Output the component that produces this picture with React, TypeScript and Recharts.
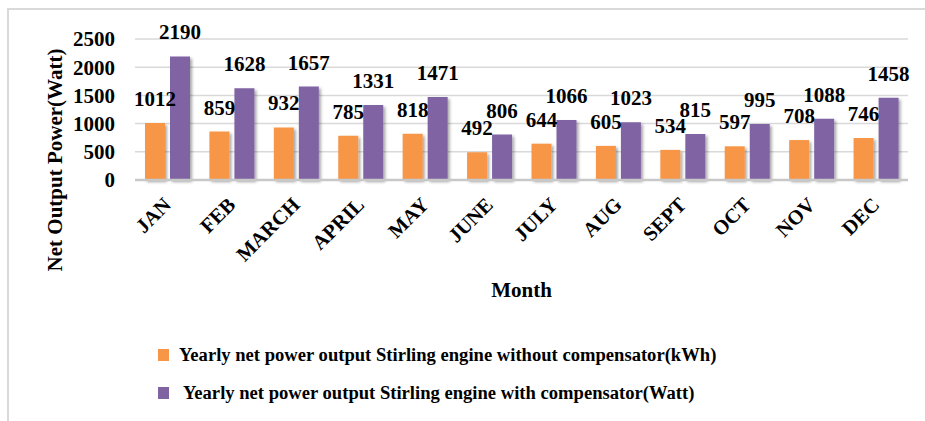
import React from "react";
import { BarChart, Bar, XAxis, YAxis, CartesianGrid, LabelList } from "recharts";

const months = ["JAN", "FEB", "MARCH", "APRIL", "MAY", "JUNE", "JULY", "AUG", "SEPT", "OCT", "NOV", "DEC"];
const withoutCompensator = [1012, 859, 932, 785, 818, 492, 644, 605, 534, 597, 708, 746];
const withCompensator = [2190, 1628, 1657, 1331, 1471, 806, 1066, 1023, 815, 995, 1088, 1458];
const yTicks = [0, 500, 1000, 1500, 2000, 2500];
const seriesNames = [
  "Yearly net power output Stirling engine without compensator(kWh)",
  " Yearly net power output Stirling engine with compensator(Watt)",
];
const seriesColors = ["#F79646", "#8064A2"];

const data = months.map((m, i) => ({ month: m, without: withoutCompensator[i], with: withCompensator[i] }));

const FONT = "'Liberation Serif', 'Times New Roman', serif";

const XTick = (props: any) => {
  const { x, y, payload } = props;
  const ax = x + 5;
  const ay = y + 26;
  return (
    <text
      x={ax}
      y={ay}
      transform={`rotate(-45 ${ax} ${ay})`}
      textAnchor="end"
      fontFamily={FONT}
      fontWeight="bold"
      fontSize={20.5}
      fill="#000"
    >
      {payload.value}
    </text>
  );
};

export default function App() {
  return (
    <div style={{ position: "absolute", left: 0, top: 0, width: 925, height: 421, overflow: "hidden", background: "#fff" }}>
      <div
        style={{
          position: "absolute",
          left: 7,
          top: 8,
          width: 1000,
          height: 1000,
          border: "2px solid #d9d9d9",
          boxSizing: "border-box",
        }}
      />
      <div style={{ position: "absolute", left: 0, top: 0 }}>
        <BarChart
          width={925}
          height={421}
          data={data}
          margin={{ top: 39, right: 17, left: 0, bottom: 0 }}
          barSize={20}
          barGap={5}
        >
          <defs>
            <filter id="barShadow" x="-30%" y="-30%" width="160%" height="160%">
              <feDropShadow dx="2" dy="2" stdDeviation="1.5" floodColor="#000" floodOpacity="0.35" />
            </filter>
          </defs>
          <CartesianGrid vertical={false} stroke="#d9d9d9" strokeWidth={1.5} />
          <XAxis
            dataKey="month"
            height={241}
            tickLine={false}
            tickSize={0}
            tickMargin={0}
            axisLine={{ stroke: "#c8c8c8", strokeWidth: 2.5 }}
            interval={0}
            tick={<XTick />}
            label={{
              content: (p: any) => {
                const vb = p.viewBox;
                return (
                  <text
                    x={vb.x + vb.width / 2}
                    y={297}
                    textAnchor="middle"
                    fontFamily={FONT}
                    fontWeight="bold"
                    fontSize={21}
                    fill="#000"
                  >
                    Month
                  </text>
                );
              },
            }}
          />
          <YAxis
            width={135}
            domain={[0, 2500]}
            ticks={yTicks}
            interval={0}
            axisLine={false}
            tickLine={false}
            tickSize={0}
            tickMargin={20}
            tick={{ fontFamily: FONT, fontWeight: "bold", fontSize: 21, fill: "#000" }}
            label={{
              content: () => (
                <text
                  x={55}
                  y={160}
                  transform="rotate(-90 55 160)"
                  textAnchor="middle"
                  dominantBaseline="central"
                  fontFamily={FONT}
                  fontWeight="bold"
                  fontSize={21}
                  fill="#000"
                >
                  Net Output Power(Watt)
                </text>
              ),
            }}
          />
          <Bar dataKey="without" fill={seriesColors[0]} isAnimationActive={false} filter="url(#barShadow)">
            <LabelList
              dataKey="without"
              position="top"
              offset={17}
              style={{ fontFamily: FONT, fontWeight: "bold", fontSize: 21, fill: "#000" }}
            />
          </Bar>
          <Bar dataKey="with" fill={seriesColors[1]} isAnimationActive={false} filter="url(#barShadow)">
            <LabelList
              dataKey="with"
              position="top"
              offset={17}
              style={{ fontFamily: FONT, fontWeight: "bold", fontSize: 21, fill: "#000" }}
            />
          </Bar>
        </BarChart>
      </div>
      {seriesNames.map((name, i) => (
        <div
          key={name}
          style={{
            position: "absolute",
            left: 158,
            top: 343 + i * 38,
            height: 24,
            display: "flex",
            alignItems: "center",
            fontFamily: FONT,
            fontWeight: "bold",
            fontSize: 18.6,
            color: "#000",
            whiteSpace: "pre",
          }}
        >
          <span style={{ display: "inline-block", width: 11, height: 12, background: seriesColors[i], marginRight: 10 }} />
          <span>{name}</span>
        </div>
      ))}
    </div>
  );
}
